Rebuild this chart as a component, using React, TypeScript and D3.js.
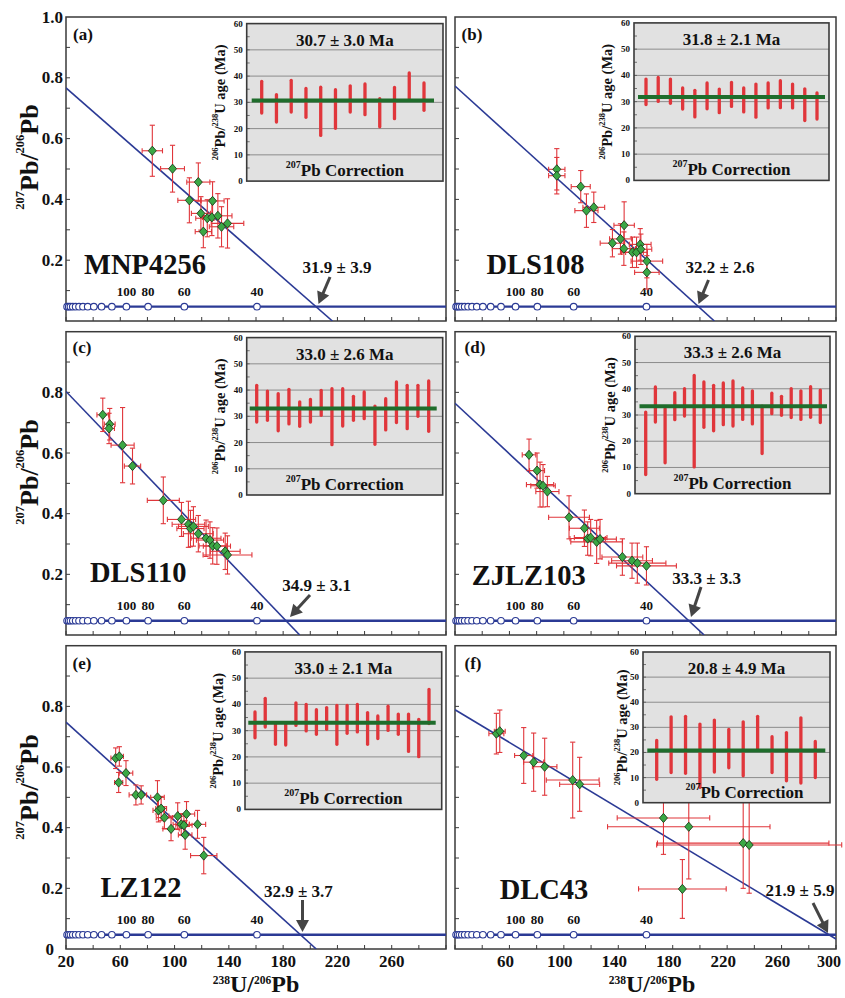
import React from "react";
import * as d3 from "d3";

const FONT = "'Liberation Serif','Times New Roman',Times,serif";

// ---------------- data ----------------
const panelLetters = ["(a)", "(b)", "(c)", "(d)", "(e)", "(f)"];
const sampleNames = ["MNP4256", "DLS108", "DLS110", "ZJLZ103", "LZ122", "DLC43"];
const meanAges = [30.7, 31.8, 33.0, 33.3, 33.0, 20.8];
const meanAgeLabels = ["30.7 ± 3.0 Ma", "31.8 ± 2.1 Ma", "33.0 ± 2.6 Ma", "33.3 ± 2.6 Ma", "33.0 ± 2.1 Ma", "20.8 ± 4.9 Ma"];
const interceptLabels = ["31.9 ± 3.9", "32.2 ± 2.6", "34.9 ± 3.1", "33.3 ± 3.3", "32.9 ± 3.7", "21.9 ± 5.9"];

// regression: 207Pb/206Pb at 238U/206Pb = 20, and 238U/206Pb where 207Pb/206Pb = 0
const regStartY = [0.767, 0.773, 0.803, 0.764, 0.748, 0.789];
const regEndX = [216.3, 210.6, 192.2, 203.1, 204.4, 312.2];

// concordia (238U/206Pb of age marks), 207Pb/206Pb level
const concordiaX = [20.8, 22.0, 23.3, 25.0, 27.1, 29.6, 32.5, 36.0, 40.5, 46.2, 53.8, 64.5, 80.5, 107.2, 160.7];
const concordiaY = 0.047;
const concordiaLabelAges = ["100", "80", "60", "40"];
const concordiaLabelX = [64.5, 80.5, 107.2, 160.7];

const xTicks = [20, 40, 60, 80, 100, 120, 140, 160, 180, 200, 220, 240, 260, 280, 300];
const xTickLabelsLeft = [20, 60, 100, 140, 180, 220, 260];
const xTickLabelsRight = [60, 100, 140, 180, 220, 260, 300];
const yTicks = [0.1, 0.2, 0.3, 0.4, 0.5, 0.6, 0.7, 0.8, 0.9];
const yTickLabelsRow0 = [0.2, 0.4, 0.6, 0.8, 1.0];
const yTickLabelsRow1 = [0.2, 0.4, 0.6, 0.8];
const yTickLabelsRow2 = [0, 0.2, 0.4, 0.6, 0.8];
const insetTicks = [0, 10, 20, 30, 40, 50, 60];
const insetGrid = [10, 20, 30, 40, 50];

// points: [238U/206Pb, ±, 207Pb/206Pb, ±]
const pointsA = [
  [83.6, 7.5, 0.56, 0.084], [98.5, 8.8, 0.501, 0.077], [110.9, 8.5, 0.397, 0.074], [117.5, 8.5, 0.457, 0.063],
  [119.4, 7, 0.354, 0.055], [128.0, 8.5, 0.395, 0.063], [121.2, 6, 0.294, 0.053], [124.1, 8.5, 0.338, 0.061],
  [127.5, 7, 0.341, 0.06], [131.9, 10.4, 0.346, 0.073], [134.6, 9, 0.31, 0.066], [139.0, 12, 0.321, 0.081],
];
const pointsB = [
  [94.8, 6, 0.499, 0.068], [94.8, 6, 0.478, 0.06], [112.4, 7, 0.442, 0.053], [116.6, 8.5, 0.363, 0.055],
  [122.0, 8, 0.374, 0.05], [144.3, 7.5, 0.315, 0.077], [135.7, 9, 0.256, 0.045], [141.6, 8, 0.27, 0.05],
  [144.1, 8.5, 0.238, 0.055], [150.4, 8, 0.226, 0.05], [153.4, 8, 0.226, 0.05], [156.1, 8, 0.252, 0.052],
  [156.6, 8, 0.236, 0.05], [161.0, 11.6, 0.197, 0.055], [161.0, 9, 0.16, 0.055],
];
const pointsC = [
  [47.1, 4.3, 0.726, 0.055], [52.2, 4, 0.695, 0.052], [51.7, 4, 0.681, 0.05], [61.7, 8.5, 0.626, 0.124],
  [69.0, 6, 0.557, 0.059], [91.7, 11.8, 0.444, 0.077], [105.1, 10.4, 0.381, 0.056], [110.2, 12, 0.365, 0.076],
  [111.7, 10, 0.351, 0.06], [113.9, 11, 0.358, 0.065], [117.5, 11, 0.334, 0.06], [123.2, 11, 0.319, 0.06],
  [126.1, 10, 0.313, 0.06], [128.1, 10, 0.294, 0.06], [131.2, 10, 0.293, 0.06], [137.3, 11, 0.276, 0.06],
  [139.0, 18, 0.264, 0.063],
];
const pointsD = [
  [74.4, 5, 0.594, 0.052], [80.3, 5.5, 0.542, 0.058], [82.5, 10, 0.496, 0.074], [84.7, 9, 0.492, 0.07],
  [87.9, 8.5, 0.473, 0.05], [103.8, 15, 0.388, 0.071], [115.1, 11, 0.352, 0.06], [117.5, 13, 0.318, 0.055],
  [119.7, 12, 0.321, 0.06], [124.1, 19, 0.307, 0.071], [126.6, 12, 0.316, 0.065], [143.0, 15, 0.257, 0.06],
  [150.1, 15, 0.245, 0.058], [154.0, 21, 0.237, 0.066], [160.7, 22, 0.228, 0.063],
];
const pointsE = [
  [56.6, 3.5, 0.629, 0.034], [59.3, 3, 0.635, 0.032], [58.8, 3, 0.549, 0.033], [64.2, 5, 0.58, 0.041],
  [71.5, 5, 0.508, 0.033], [75.4, 4, 0.508, 0.03], [87.4, 5, 0.5, 0.055], [88.1, 4, 0.457, 0.038],
  [90.1, 4, 0.463, 0.04], [92.5, 6, 0.433, 0.036], [97.4, 6, 0.396, 0.039], [102.3, 6.5, 0.438, 0.044],
  [104.9, 6, 0.411, 0.035], [106.9, 6, 0.408, 0.035], [108.8, 6, 0.445, 0.041], [107.8, 5, 0.376, 0.047],
  [116.9, 6, 0.411, 0.046], [121.5, 9.7, 0.308, 0.06],
];
const pointsF = [
  [50.4, 5.5, 0.71, 0.067], [52.9, 4, 0.718, 0.07], [70.5, 6.7, 0.638, 0.092], [77.8, 7.4, 0.616, 0.096],
  [85.9, 9, 0.601, 0.094], [106.5, 19.4, 0.557, 0.125], [111.6, 14.7, 0.543, 0.089], [173.2, 34, 0.432, 0.12],
  [191.8, 59.7, 0.403, 0.172], [231.8, 63, 0.349, 0.149], [236.2, 68, 0.343, 0.159], [187.1, 32.2, 0.198, 0.097],
];
const allPoints = [pointsA, pointsB, pointsC, pointsD, pointsE, pointsF];

// inset bars: 206Pb/238U age range (Ma) [low, high]
const barsA = [[25.9, 38.0], [22.5, 32.9], [26.3, 38.4], [24.3, 35.3], [17.4, 35.8], [20.1, 34.8], [26.3, 36.3], [25.3, 37.0], [20.7, 31.4], [23.8, 35.7], [31.0, 41.2], [27.0, 37.4]];
const barsB = [[28.9, 38.6], [30.1, 39.2], [29.4, 38.6], [27.2, 35.2], [24.2, 34.3], [27.3, 37.1], [25.8, 34.8], [28.2, 37.3], [26.1, 35.2], [24.1, 36.7], [27.6, 37.1], [27.7, 38.0], [27.6, 36.7], [22.8, 34.9], [23.4, 33.3]];
const barsC = [[27.8, 41.8], [28.5, 39.6], [24.5, 38.6], [27.1, 40.3], [26.2, 35.5], [27.8, 36.4], [30.4, 39.9], [19.2, 40.5], [26.3, 40.5], [28.5, 37.6], [29.1, 39.3], [19.3, 33.9], [24.8, 36.7], [27.6, 43.1], [25.3, 41.8], [30.0, 41.8], [24.3, 43.5]];
const barsD = [[7.3, 31.1], [27.3, 40.7], [11.8, 32.4], [28.2, 38.5], [29.6, 40.0], [10.2, 45.1], [25.3, 42.6], [24.0, 41.3], [26.3, 42.2], [25.8, 43.0], [28.3, 40.3], [26.6, 39.2], [15.3, 33.4], [30.5, 38.3], [29.9, 37.1], [29.0, 40.0], [28.3, 39.2], [29.1, 40.8], [27.1, 39.5]];
const barsE = [[27.3, 37.1], [31.4, 42.3], [24.8, 33.0], [24.5, 33.0], [32.0, 40.6], [29.9, 40.0], [28.6, 38.0], [30.5, 38.8], [24.8, 39.6], [29.0, 39.6], [29.5, 40.0], [24.8, 36.9], [27.0, 35.6], [30.1, 39.3], [28.6, 36.3], [22.1, 36.3], [20.1, 34.3], [32.7, 45.7]];
const barsF = [[9.3, 24.8], [12.0, 34.2], [11.7, 34.4], [6.1, 31.3], [12.2, 32.9], [13.9, 29.2], [10.7, 32.2], [21.1, 34.4], [12.0, 26.3], [8.7, 27.9], [7.8, 33.8], [10.0, 24.4]];
const allBars = [barsA, barsB, barsC, barsD, barsE, barsF];

// ---------------- layout ----------------
const COLS = [{ x0: 66, x1: 446, labDx: 0 }, { x0: 455, x1: 836, labDx: -4 }];
const ROWS = [{ y0: 17, y1: 321 }, { y0: 331.7, y1: 635 }, { y0: 645.7, y1: 949 }];
const INSETS = [
  { l: 246.7, r: 443, t: 23.6, b: 181.1, pl: 15, pr: 19, gl: 5, gr: 9, lab: 27, cdx: 0 },
  { l: 634, r: 829, t: 22.9, b: 180.4, pl: 12, pr: 12, gl: 4, gr: 4, lab: 27, cdx: 0 },
  { l: 246.7, r: 442.7, t: 337.6, b: 495, pl: 10, pr: 14, gl: 3, gr: 6, lab: 27, cdx: 0 },
  { l: 635, r: 830, t: 336.3, b: 493.7, pl: 10.7, pr: 9.7, gl: 4.5, gr: 3, lab: 25, cdx: 0 },
  { l: 245, r: 441.7, t: 651.9, b: 809.4, pl: 10, pr: 12.7, gl: 3.3, gr: 6, lab: 27, cdx: 0 },
  { l: 643, r: 830, t: 652, b: 802.7, pl: 13.7, pr: 14.7, gl: 4.3, gr: 4.7, lab: 21, cdx: 8 },
];
const ARROWS = [
  { tx: 337, ty: 267, x1: 330, y1: 277, x2: 318.5, y2: 304 },
  { tx: 720, ty: 267, x1: 708.5, y1: 280, x2: 698.5, y2: 304 },
  { tx: 316.7, ty: 585, x1: 310, y1: 595, x2: 290, y2: 617 },
  { tx: 706.7, ty: 578.3, x1: 701, y1: 587, x2: 691, y2: 617 },
  { tx: 298.3, ty: 891.7, x1: 302.5, y1: 900, x2: 302.5, y2: 932 },
  { tx: 800, ty: 890, x1: 813, y1: 903, x2: 828, y2: 933 },
];
const NAME_POS = [
  { x: 145, y: 264 }, { x: 535.5, y: 264 }, { x: 138.3, y: 572 },
  { x: 528.7, y: 575.5 }, { x: 141, y: 887 }, { x: 544, y: 889.5 },
];
const LETTER_POS = [
  { x: 83, y: 34.5 }, { x: 472, y: 34.5 }, { x: 82, y: 347 },
  { x: 475, y: 347 }, { x: 82, y: 663 }, { x: 473, y: 663 },
];

const NAVY = "#2b3a95";
const RED = "#e0363b";
const GREEN_PT = "#3aa845";
const GREEN_LINE = "#1f6d2c";
const FRAME = "#3a3a3a";

type Part = [string, boolean];
function supParts(parts: Part[], supSize: number, shift: number) {
  let cur = 0;
  return parts.map(([t, sup], k) => {
    const target = sup ? -shift : 0;
    const dy = target - cur;
    cur = target;
    return (
      <tspan key={k} dy={dy} fontSize={sup ? supSize : undefined}>
        {t}
      </tspan>
    );
  });
}

function Arrow({ x1, y1, x2, y2 }: { x1: number; y1: number; x2: number; y2: number }) {
  const a = Math.atan2(y2 - y1, x2 - x1);
  const hl = 12, hw = 6.5;
  const bx = x2 - hl * Math.cos(a), by = y2 - hl * Math.sin(a);
  const px = -Math.sin(a), py = Math.cos(a);
  const head = `M${x2},${y2}L${bx + hw * px},${by + hw * py}L${bx - hw * px},${by - hw * py}Z`;
  return (
    <g>
      <line x1={x1} y1={y1} x2={bx + 1 * Math.cos(a)} y2={by + 1 * Math.sin(a)} stroke="#454545" strokeWidth={3} />
      <path d={head} fill="#454545" />
    </g>
  );
}

function Inset({ i }: { i: number }) {
  const g = INSETS[i];
  const bars = allBars[i];
  const yv = d3.scaleLinear().domain([0, 60]).range([g.b, g.t]);
  const xs = d3.scalePoint<number>().domain(d3.range(bars.length)).range([g.l + g.pl, g.r - g.pr]);
  const minor = d3.range(5, 60, 5);
  const cy = (g.t + g.b) / 2;
  return (
    <g>
      <rect x={g.l} y={g.t} width={g.r - g.l} height={g.b - g.t} fill="#e1e1e1" stroke="none" />
      {insetGrid.map((v) => (
        <line key={v} x1={g.l} x2={g.r} y1={yv(v)} y2={yv(v)} stroke="#8c8c8c" strokeWidth={1} />
      ))}
      {minor.map((v) => (
        <line key={"m" + v} x1={g.l} x2={g.l + 3} y1={yv(v)} y2={yv(v)} stroke="#555" strokeWidth={0.8} />
      ))}
      <rect x={g.l} y={g.t} width={g.r - g.l} height={g.b - g.t} fill="none" stroke={FRAME} strokeWidth={1.6} />
      {bars.map((b, k) => (
        <line key={k} x1={xs(k)} x2={xs(k)} y1={yv(b[0])} y2={yv(b[1])} stroke={RED} strokeWidth={3.3} strokeLinecap="round" />
      ))}
      <line x1={g.l + g.gl} x2={g.r - g.gr} y1={yv(meanAges[i])} y2={yv(meanAges[i])} stroke={GREEN_LINE} strokeWidth={4} />
      {insetTicks.map((v) => (
        <text key={"t" + v} x={g.l - 4} y={yv(v)} textAnchor="end" dominantBaseline="central" fontSize={9}>
          {v}
        </text>
      ))}
      <text x={(g.l + g.r) / 2} y={g.t + 16.5} textAnchor="middle" dominantBaseline="central" fontSize={17}>
        {meanAgeLabels[i]}
      </text>
      <text x={(g.l + g.r) / 2 + g.cdx} y={g.b - 11} textAnchor="middle" dominantBaseline="central" fontSize={17}>
        {supParts([["207", true], ["Pb Correction", false]], 10, 6)}
      </text>
      <text
        transform={`translate(${g.l - g.lab},${cy}) rotate(-90)`}
        textAnchor="middle"
        dominantBaseline="central"
        fontSize={14.5}
      >
        {supParts([["206", true], ["Pb/", false], ["238", true], ["U age (Ma)", false]], 8.5, 5)}
      </text>
    </g>
  );
}

function Panel({ i }: { i: number }) {
  const col = i % 2;
  const row = Math.floor(i / 2);
  const { x0, x1, labDx } = COLS[col];
  const { y0, y1 } = ROWS[row];
  const x = d3.scaleLinear().domain([20, 300]).range([x0, x1]);
  const y = d3.scaleLinear().domain([0, 1]).range([y1, y0]);
  const pts = allPoints[i];
  const line = d3.line<number[]>().x((d) => x(d[0])).y((d) => y(d[1]));
  const regPath = line([[20, regStartY[i]], [regEndX[i], 0]]) || "";
  const cy = y(concordiaY);
  const yLabels = row === 0 ? yTickLabelsRow0 : row === 1 ? yTickLabelsRow1 : yTickLabelsRow2;
  const xLabels = col === 0 ? xTickLabelsLeft : xTickLabelsRight;
  const cap = 2.6;
  const ar = ARROWS[i];
  return (
    <g>
      <defs>
        <clipPath id={`clip${i}`}>
          <rect x={x0} y={y0} width={x1 - x0} height={y1 - y0} />
        </clipPath>
      </defs>
      <rect x={x0} y={y0} width={x1 - x0} height={y1 - y0} fill="#fff" stroke={FRAME} strokeWidth={1.5} />
      {yTicks.map((v) => (
        <line key={"yt" + v} x1={x0} x2={x0 + 4} y1={y(v)} y2={y(v)} stroke={FRAME} strokeWidth={1} />
      ))}
      {xTicks.map((v) => (
        <line key={"xt" + v} x1={x(v)} x2={x(v)} y1={y1} y2={y1 - 4} stroke={FRAME} strokeWidth={1} />
      ))}
      {col === 0 &&
        yLabels.map((v) => (
          <text key={"yl" + v} x={v === 0 ? 54 : x0 - 3} y={y(v)} textAnchor="end" dominantBaseline="central" fontSize={17}>
            {v === 0 ? "0" : v.toFixed(1)}
          </text>
        ))}
      {row === 2 &&
        xLabels.map((v) => (
          <text
            key={"xl" + v}
            x={Math.min(x(v) + labDx, 829)}
            y={961}
            textAnchor="middle"
            dominantBaseline="central"
            fontSize={v === 300 ? 16 : 17}
          >
            {v}
          </text>
        ))}
      {/* concordia */}
      <line x1={x0} x2={x1} y1={cy} y2={cy} stroke={NAVY} strokeWidth={2.3} />
      {concordiaX.map((v, k) => (
        <circle key={"c" + k} cx={x(v)} cy={cy} r={3.3} fill="#fff" stroke={NAVY} strokeWidth={1.1} />
      ))}
      {concordiaLabelAges.map((t, k) => (
        <text key={"cl" + k} x={x(concordiaLabelX[k])} y={cy - 15} textAnchor="middle" dominantBaseline="central" fontSize={13}>
          {t}
        </text>
      ))}
      {/* regression line */}
      <path d={regPath} stroke={NAVY} strokeWidth={1.6} fill="none" clipPath={`url(#clip${i})`} />
      {/* error bars */}
      {pts.map((p, k) => {
        const cx = x(p[0]), cyy = y(p[2]);
        const xl = x(p[0] - p[1]), xr = x(p[0] + p[1]);
        const yt = y(p[2] + p[3]), yb = y(p[2] - p[3]);
        return (
          <g key={"e" + k} stroke={RED} strokeWidth={1.1}>
            <line x1={xl} x2={xr} y1={cyy} y2={cyy} />
            <line x1={xl} x2={xl} y1={cyy - cap} y2={cyy + cap} />
            <line x1={xr} x2={xr} y1={cyy - cap} y2={cyy + cap} />
            <line x1={cx} x2={cx} y1={yt} y2={yb} />
            <line x1={cx - cap} x2={cx + cap} y1={yt} y2={yt} />
            <line x1={cx - cap} x2={cx + cap} y1={yb} y2={yb} />
          </g>
        );
      })}
      {pts.map((p, k) => {
        const cx = x(p[0]), cyy = y(p[2]);
        return (
          <path
            key={"p" + k}
            d={`M${cx},${cyy - 4.6}L${cx + 4},${cyy}L${cx},${cyy + 4.6}L${cx - 4},${cyy}Z`}
            fill={GREEN_PT}
            stroke="#1d3d1d"
            strokeWidth={0.9}
          />
        );
      })}
      <Inset i={i} />
      {/* labels */}
      <text x={LETTER_POS[i].x} y={LETTER_POS[i].y} textAnchor="middle" dominantBaseline="central" fontSize={17}>
        {panelLetters[i]}
      </text>
      <text x={NAME_POS[i].x} y={NAME_POS[i].y} textAnchor="middle" dominantBaseline="central" fontSize={28.5}>
        {sampleNames[i]}
      </text>
      <text x={ar.tx} y={ar.ty} textAnchor="middle" dominantBaseline="central" fontSize={17}>
        {interceptLabels[i]}
      </text>
      <Arrow x1={ar.x1} y1={ar.y1} x2={ar.x2} y2={ar.y2} />
    </g>
  );
}

const Y_LABEL_POS = [
  { x: 29, y: 157 },
  { x: 29, y: 472 },
  { x: 29, y: 787 },
];
const X_LABEL_POS = [
  { x: 256, y: 992 },
  { x: 652, y: 992 },
];

export default function App() {
  return (
    <div style={{ position: "absolute", left: 0, top: 0 }}>
      <svg width={845} height={998} style={{ display: "block", background: "#fff" }} fontFamily={FONT} fontWeight="bold" fill="#111">
        {d3.range(6).map((i) => (
          <Panel key={i} i={i} />
        ))}
        {Y_LABEL_POS.map((p, k) => (
          <text key={"ya" + k} transform={`translate(${p.x},${p.y}) rotate(-90)`} textAnchor="middle" dominantBaseline="central" fontSize={26}>
            {supParts([["207", true], ["Pb/", false], ["206", true], ["Pb", false]], 12.5, 9)}
          </text>
        ))}
        {X_LABEL_POS.map((p, k) => (
          <text key={"xa" + k} x={p.x} y={p.y} textAnchor="middle" fontSize={24}>
            {supParts([["238", true], ["U/", false], ["206", true], ["Pb", false]], 11.5, 8)}
          </text>
        ))}
      </svg>
    </div>
  );
}
